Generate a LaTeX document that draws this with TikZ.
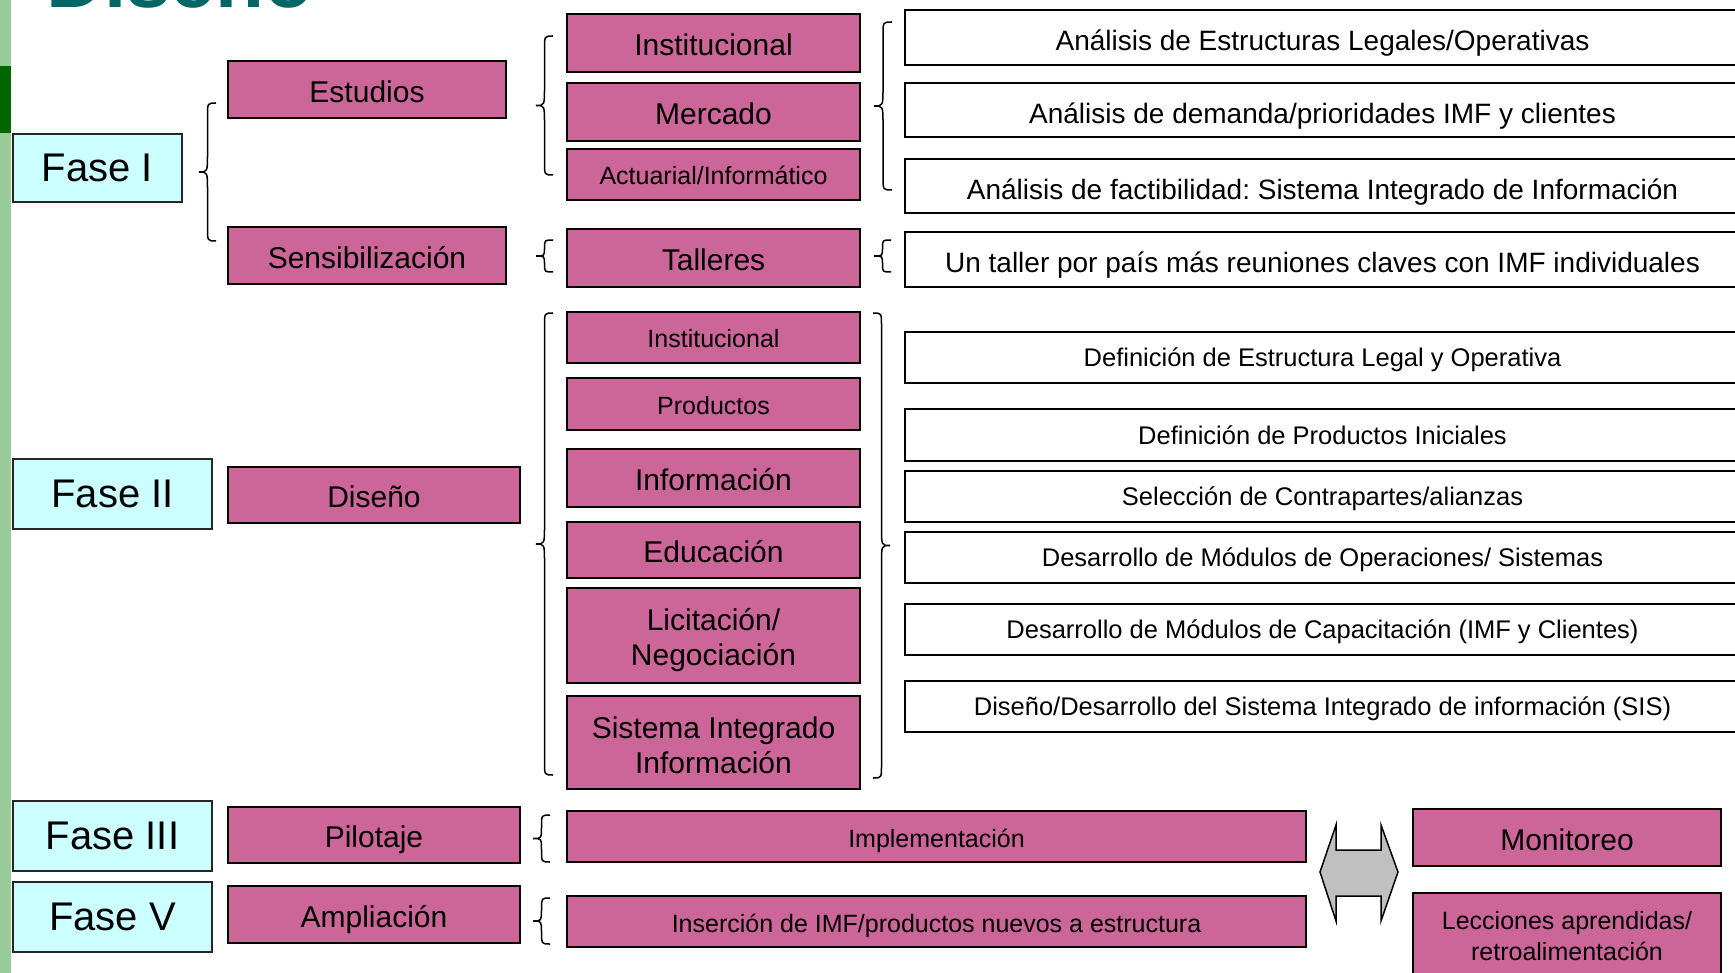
\documentclass[tikz,border=0pt]{standalone}
\usepackage{fontspec}
\setmainfont{Liberation Sans}
\frenchspacing
\definecolor{pinkc}{HTML}{CC6699}
\definecolor{cyanbg}{HTML}{CCFFFF}
\definecolor{lgreen}{HTML}{99CC99}
\definecolor{dgreen}{HTML}{006600}
\definecolor{tealt}{HTML}{006666}
\definecolor{arrowgray}{HTML}{C0C0C0}
\tikzset{
  fase/.style={draw=black!85, line width=0.6pt, fill=cyanbg, inner sep=0pt,
    font=\fontsize{20}{24}\selectfont},
  pbox/.style={draw=black, line width=1pt, fill=pinkc, inner sep=0pt, align=center},
  wbox/.style={draw=black, line width=0.7pt, fill=white, inner sep=0pt,
    minimum width=417.5pt},
  fbig/.style={font=\fontsize{15}{17.5}\selectfont},
  fsmall/.style={font=\fontsize{12.5}{15.5}\selectfont},
  sb/.style={fbig, text height=15.9pt, text depth=3.3pt},
  ss/.style={fsmall, text height=13.25pt, text depth=2.75pt},
  fw1/.style={font=\fontsize{14}{16}\selectfont, text height=16.6pt, text depth=3.1pt},
  fw2/.style={font=\fontsize{12.75}{15}\selectfont, text height=12.2pt, text depth=2.8pt},
  bracestyle/.style={draw=black, line width=0.75pt},
  lvthree/.style={pbox, minimum width=146.5pt}
}
\newcommand\mybrace[4]{%
  \pgfmathsetmacro\bxm{(#1+#2)/2}%
  \pgfmathsetmacro\bym{(#3+#4)/2}%
  \pgfmathsetmacro\br{min(13,(#4-#3)/4)}%
  \pgfmathsetmacro\bt{min(18,(#4-#3)/4)}%
  \draw[bracestyle] (#1,#3) .. controls (\bxm,#3) .. (\bxm,#3+\br)
    -- (\bxm,\bym-\bt) .. controls (\bxm,\bym) .. (#2,\bym)
    .. controls (\bxm,\bym) .. (\bxm,\bym+\bt)
    -- (\bxm,#4-\br) .. controls (\bxm,#4) .. (#1,#4);%
}
\begin{document}
\begin{tikzpicture}[x=0.5pt,y=-0.5pt]
\useasboundingbox (0,0) rectangle (1735,973);
\clip (0,0) rectangle (1735,973);
\fill[white] (0,0) rectangle (1735,973);
% left bar
\fill[lgreen] (0,0) rectangle (11,973);
\fill[dgreen] (0,66) rectangle (11,133);
% title (cut off at top)
\node[anchor=base west, inner sep=0pt, text=tealt,
  font=\bfseries\fontsize{40}{42}\selectfont] (title) at (46,8) {Diseño};

% phases
\node[fase, minimum width=84.5pt, minimum height=34pt] (f1) at (97.5,168) {Fase I};
\node[fase, minimum width=99.5pt, minimum height=35pt] (f2) at (112.5,494) {Fase II};
\node[fase, minimum width=99.5pt, minimum height=35pt] (f3) at (112.5,836) {Fase III};
\node[fase, minimum width=99.5pt, minimum height=35pt] (f5) at (112.5,917) {Fase V};

% level 2
\node[pbox, sb, minimum width=139pt, minimum height=28.5pt] (est) at (367,89.5) {Estudios};
\node[pbox, sb, minimum width=139pt, minimum height=28.5pt] (sen) at (367,255.5) {Sensibilización};
\node[pbox, sb, minimum width=146pt, minimum height=28pt] (dis) at (374,495) {Diseño};
\node[pbox, sb, minimum width=146pt, minimum height=28pt] (pil) at (374,835) {Pilotaje};
\node[pbox, sb, minimum width=146pt, minimum height=28.5pt] (amp) at (374,914.5) {Ampliación};

% level 3
\node[lvthree, sb, minimum height=29pt] (inst1) at (713.5,43) {Institucional};
\node[lvthree, sb, minimum height=29pt] (merc) at (713.5,112) {Mercado};
\node[lvthree, ss, minimum height=25.5pt] (act) at (713.5,174.5) {Actuarial/Informático};
\node[lvthree, sb, minimum height=29pt] (tall) at (713.5,258) {Talleres};
\node[lvthree, ss, minimum height=25.5pt] (inst2) at (713.5,337.5) {Institucional};
\node[lvthree, ss, minimum height=26pt] (prod) at (713.5,404) {Productos};
\node[lvthree, sb, minimum height=29pt] (info) at (713.5,478) {Información};
\node[lvthree, sb, minimum height=28pt] (edu) at (713.5,550) {Educación};
\node[lvthree, fbig, minimum height=47.5pt] (lic) at (713.5,635.5) {\rule{0pt}{15.2pt}Licitación/\\Negociación};
\node[lvthree, fbig, minimum height=46.5pt] (sis) at (713.5,742.5) {\rule{0pt}{13.8pt}Sistema Integrado\\Información};
\node[pbox, ss, minimum width=369.5pt, minimum height=25.5pt] (impl) at (936.5,836.5) {Implementación};
\node[pbox, ss, minimum width=369.5pt, minimum height=25.5pt] (ins) at (936.5,921.5) {Inserción de IMF/productos nuevos a estructura};
\node[pbox, sb, minimum width=154pt, minimum height=28.5pt] (mon) at (1567,837.5) {Monitoreo};
\node[pbox, fsmall, minimum width=154pt, minimum height=43.5pt] (lec) at (1567,936.5) {Lecciones aprendidas/\\retroalimentación};

% white boxes
\node[wbox, fw1, minimum height=27.5pt] (w1) at (1322.5,37.5) {Análisis de Estructuras Legales/Operativas};
\node[wbox, fw1, minimum height=27pt] (w2) at (1322.5,110) {Análisis de demanda/prioridades IMF y clientes};
\node[wbox, fw1, minimum height=27pt] (w3) at (1322.5,186) {Análisis de factibilidad: Sistema Integrado de Información};
\node[wbox, fw1, minimum height=27.5pt] (w4) at (1322.5,259.5) {Un taller por país más reuniones claves con IMF individuales};
\node[wbox, fw2, minimum height=25.5pt] (w5) at (1322.5,357.5) {Definición de Estructura Legal y Operativa};
\node[wbox, fw2, minimum height=26pt] (w6) at (1322.5,435) {Definición de Productos Iniciales};
\node[wbox, fw2, minimum height=25.5pt] (w7) at (1322.5,496.5) {Selección de Contrapartes/alianzas};
\node[wbox, fw2, minimum height=25.5pt] (w8) at (1322.5,557.5) {Desarrollo de Módulos de Operaciones/ Sistemas};
\node[wbox, fw2, minimum height=25.5pt] (w9) at (1322.5,629.5) {Desarrollo de Módulos de Capacitación (IMF y Clientes)};
\node[wbox, fw2, minimum height=25.5pt] (w10) at (1322.5,706.5) {Diseño/Desarrollo del Sistema Integrado de información (SIS)};

% braces
\mybrace{216}{199}{103}{241}
\mybrace{553}{536}{36}{175}
\mybrace{553}{536}{240}{272}
\mybrace{892}{874}{22}{190}
\mybrace{891}{874}{240}{272}
\mybrace{553}{536}{313}{775}
\mybrace{873}{890}{313}{778}
\mybrace{550}{533}{815}{862}
\mybrace{550}{533}{898}{944}

% double arrow
\draw[fill=arrowgray, line width=0.75pt, line join=miter]
  (1320,872) -- (1336,825) -- (1336,850) -- (1381,850) -- (1381,825)
  -- (1398,872) -- (1381,921) -- (1381,896) -- (1336,896) -- (1336,921) -- cycle;
\end{tikzpicture}
\end{document}
